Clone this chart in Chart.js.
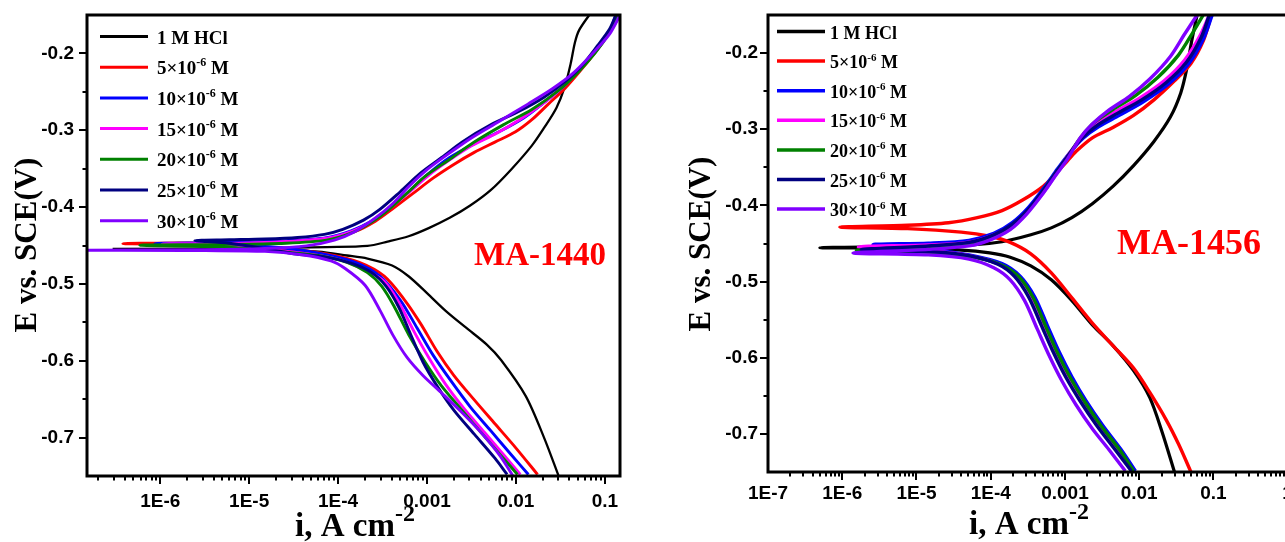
<!DOCTYPE html>
<html><head><meta charset="utf-8">
<script src="https://cdn.jsdelivr.net/npm/chart.js@4.4.1/dist/chart.umd.min.js"></script>
<style>
html,body{margin:0;padding:0;background:#fff;overflow:hidden;width:1285px;height:542px;position:relative;}
#wrapL{position:absolute;left:0;top:0;width:640px;height:542px;}
#wrapR{position:absolute;left:640px;top:0;width:680px;height:542px;}
canvas{display:block;}
</style></head><body>
<div id="wrapL"><canvas id="cL" width="640" height="542"></canvas></div>
<div id="wrapR"><canvas id="cR" width="680" height="542"></canvas></div>
<script>
// ---------- series names / tick labels ----------
const seriesNames = ['1 M HCl','5×10⁻⁶ M','10×10⁻⁶ M','15×10⁻⁶ M','20×10⁻⁶ M','25×10⁻⁶ M','30×10⁻⁶ M'];
const decadeLabels = {'-7':'1E-7','-6':'1E-6','-5':'1E-5','-4':'1E-4','-3':'0.001','-2':'0.01','-1':'0.1','0':'1'};
const yTickValues = [-0.7,-0.6,-0.5,-0.4,-0.3,-0.2];
const panelTags = ['MA-1440','MA-1456'];

// ---------- MA-1440 panel : [i (A cm^-2), E (V)] ----------
const hcl_1440 = [[0.030,-0.749],[0.0207,-0.700],[0.0129,-0.646],[6.8e-3,-0.599],[4.7e-3,-0.579],[2.75e-3,-0.557],[1.62e-3,-0.535],[1.0e-3,-0.512],[6.2e-4,-0.490],[4.05e-4,-0.476],[2.14e-4,-0.467],[1.26e-4,-0.463],[6.0e-5,-0.458],[1.5e-5,-0.4555],[3.0e-7,-0.4545],
 [1.5e-5,-0.4535],[7.4e-5,-0.452],[2.14e-4,-0.4505],[3.6e-4,-0.445],[6.2e-4,-0.438],[1.06e-3,-0.427],[1.8e-3,-0.414],[3.06e-3,-0.398],[5.2e-3,-0.378],[8.85e-3,-0.351],[0.0151,-0.320],[0.0207,-0.297],[0.0285,-0.271],[0.0353,-0.244],[0.0414,-0.2125],[0.046,-0.186],[0.0512,-0.170],[0.0667,-0.150]];
const c5_1440 = [[0.0175,-0.748],[9.9e-3,-0.713],[5.8e-3,-0.682],[3.4e-3,-0.651],[2.0e-3,-0.619],[1.3e-3,-0.588],[8.5e-4,-0.552],[5.6e-4,-0.521],[3.3e-4,-0.490],[1.73e-4,-0.472],[7.4e-5,-0.461],[2.6e-5,-0.454],[5.2e-6,-0.4496],[3.8e-7,-0.4475],
 [5.2e-6,-0.4462],[2.6e-5,-0.445],[7.4e-5,-0.4415],[1.56e-4,-0.4317],[2.65e-4,-0.418],[4.07e-4,-0.4026],[6.9e-4,-0.3825],[1.17e-3,-0.3623],[2.0e-3,-0.3445],[3.4e-3,-0.3288],[5.8e-3,-0.3154],[9.9e-3,-0.302],[0.0151,-0.2863],[0.0231,-0.266],[0.0353,-0.246],[0.054,-0.2215],[0.0826,-0.1946],[0.1135,-0.1723],[0.148,-0.150]];
const c10_1440 = [[0.0138,-0.748],[8.85e-3,-0.7224],[5.2e-3,-0.691],[3.06e-3,-0.66],[1.8e-3,-0.624],[1.17e-3,-0.5927],[7.7e-4,-0.557],[5.0e-4,-0.521],[2.95e-4,-0.49],[1.56e-4,-0.472],[6.7e-5,-0.461],[2.3e-5,-0.453],[5.2e-6,-0.4487],[8.7e-7,-0.4475],
 [5.2e-6,-0.446],[2.6e-5,-0.4437],[7.4e-5,-0.4397],[1.4e-4,-0.4308],[2.39e-4,-0.418],[3.65e-4,-0.4026],[6.2e-4,-0.380],[1.0e-3,-0.358],[1.8e-3,-0.3355],[3.4e-3,-0.3176],[6.45e-3,-0.302],[0.0122,-0.284],[0.0207,-0.264],[0.0335,-0.2438],[0.054,-0.2192],[0.0826,-0.1924],[0.1135,-0.170],[0.133,-0.150]];
const c15_1440 = [[0.0112,-0.748],[7.55e-3,-0.7246],[4.44e-3,-0.6933],[2.6e-3,-0.662],[1.62e-3,-0.6307],[1.06e-3,-0.5971],[7.1e-4,-0.5614],[4.9e-4,-0.5256],[3.3e-4,-0.4965],[1.93e-4,-0.481],[1.02e-4,-0.4683],[4.4e-5,-0.4607],[1.5e-5,-0.455],[5.2e-6,-0.4504],[1.05e-6,-0.448],
 [5.2e-6,-0.4474],[2.6e-5,-0.4446],[7.4e-5,-0.4406],[1.48e-4,-0.4308],[2.51e-4,-0.4174],[3.85e-4,-0.4013],[6.55e-4,-0.379],[1.06e-3,-0.358],[1.8e-3,-0.3386],[3.2e-3,-0.3199],[6.0e-3,-0.3042],[0.0118,-0.284],[0.0207,-0.264],[0.0335,-0.2438],[0.054,-0.2192],[0.0826,-0.1924],[0.116,-0.170],[0.141,-0.150]];
const c20_1440 = [[0.0104,-0.748],[7.2e-3,-0.7268],[4.2e-3,-0.6955],[2.47e-3,-0.6642],[1.46e-3,-0.633],[9.5e-4,-0.6016],[6.2e-4,-0.5658],[4.3e-4,-0.530],[3.1e-4,-0.5032],[2.14e-4,-0.4853],[1.26e-4,-0.472],[6.0e-5,-0.463],[2.07e-5,-0.4576],[5.2e-6,-0.452],[5.9e-7,-0.4496],
 [5.2e-6,-0.4487],[2.6e-5,-0.447],[7.4e-5,-0.443],[1.4e-4,-0.434],[2.39e-4,-0.4196],[3.65e-4,-0.404],[6.2e-4,-0.380],[9.5e-4,-0.36],[1.8e-3,-0.3377],[3.4e-3,-0.3154],[7.2e-3,-0.293],[0.0151,-0.273],[0.0285,-0.2505],[0.0485,-0.226],[0.0783,-0.199],[0.1135,-0.172],[0.141,-0.150]];
const c25_1440 = [[7.96e-3,-0.748],[5.8e-3,-0.7268],[3.4e-3,-0.6955],[2.0e-3,-0.6642],[1.3e-3,-0.633],[9.0e-4,-0.6016],[6.55e-4,-0.5658],[4.8e-4,-0.530],[3.47e-4,-0.5032],[2.39e-4,-0.4853],[1.4e-4,-0.473],[7.4e-5,-0.4652],[3.16e-5,-0.4607],[1.5e-5,-0.454],[6.0e-6,-0.447],[2.45e-6,-0.4435],
 [6.0e-6,-0.4425],[1.5e-5,-0.4415],[3.5e-5,-0.4395],[7.0e-5,-0.4355],[1.13e-4,-0.429],[1.93e-4,-0.417],[2.95e-4,-0.403],[5.0e-4,-0.380],[8.5e-4,-0.3556],[1.46e-3,-0.3355],[2.47e-3,-0.3154],[5.2e-3,-0.293],[0.011,-0.275],[0.0207,-0.257],[0.0353,-0.237],[0.054,-0.217],[0.0826,-0.190],[0.1135,-0.168],[0.133,-0.150]];
const c30_1440 = [[9.2e-3,-0.7495],[6.6e-3,-0.7235],[4.15e-3,-0.6948],[2.47e-3,-0.6674],[1.48e-3,-0.6426],[9.0e-4,-0.6192],[5.96e-4,-0.5957],[4.15e-4,-0.567],[2.96e-4,-0.5344],[2.01e-4,-0.5018],[1.2e-4,-0.48],[8.3e-5,-0.47],[3.9e-5,-0.462],[1.5e-5,-0.4576],[3.2e-6,-0.4567],[1.0e-7,-0.4562],
 [3.2e-6,-0.4555],[1.5e-5,-0.454],[4.4e-5,-0.4505],[9.1e-5,-0.443],[1.56e-4,-0.4317],[2.65e-4,-0.4138],[4.07e-4,-0.396],[6.2e-4,-0.3735],[9.5e-4,-0.3534],[1.62e-3,-0.3333],[3.06e-3,-0.311],[6.45e-3,-0.2886],[0.0136,-0.266],[0.0257,-0.246],[0.0437,-0.226],[0.0741,-0.199],[0.1135,-0.1745],[0.148,-0.150]];

// ---------- MA-1456 panel : [i (A cm^-2), E (V)] ----------
const hcl_1456 = [[0.0299,-0.75],[0.0204,-0.6977],[0.0139,-0.6523],[8.4e-3,-0.6168],[4.43e-3,-0.584],[2.34e-3,-0.5568],[1.24e-3,-0.525],[6.55e-4,-0.4977],[3.47e-4,-0.4795],[1.83e-4,-0.468],[9.7e-5,-0.4623],[4.0e-5,-0.4586],[7.6e-6,-0.4565],[5.0e-7,-0.4555],
 [7.6e-6,-0.454],[5.1e-5,-0.4523],[1.42e-4,-0.4477],[3.47e-4,-0.4386],[6.55e-4,-0.4295],[1.24e-3,-0.416],[2.34e-3,-0.3977],[4.43e-3,-0.375],[8.4e-3,-0.3477],[0.0158,-0.316],[0.0263,-0.284],[0.0363,-0.2523],[0.0438,-0.2205],[0.051,-0.184],[0.0603,-0.150]];
const c5_1456 = [[0.0498,-0.75],[0.034,-0.7136],[0.0232,-0.6818],[0.0139,-0.6455],[8.4e-3,-0.6136],[4.43e-3,-0.5841],[2.34e-3,-0.5545],[1.24e-3,-0.5214],[6.55e-4,-0.4886],[3.47e-4,-0.4636],[1.83e-4,-0.4486],[9.7e-5,-0.4405],[4.0e-5,-0.435],[7.6e-6,-0.4305],[9.3e-7,-0.4285],
 [7.6e-6,-0.426],[2.7e-5,-0.4227],[6.6e-5,-0.416],[1.42e-4,-0.4068],[2.69e-4,-0.393],[5.1e-4,-0.375],[7.4e-4,-0.359],[1.09e-3,-0.341],[1.4e-3,-0.3295],[2.34e-3,-0.3114],[4.43e-3,-0.2977],[8.4e-3,-0.2818],[0.0158,-0.2614],[0.0299,-0.2364],[0.0498,-0.2136],[0.073,-0.184],[0.094,-0.150]];
const c10_1456 = [[8.9e-3,-0.7486],[5.7e-3,-0.7205],[3.22e-3,-0.6886],[1.93e-3,-0.6568],[1.24e-3,-0.625],[8.45e-4,-0.5932],[5.75e-4,-0.5568],[3.94e-4,-0.5205],[2.51e-4,-0.4932],[1.42e-4,-0.4764],[5.1e-5,-0.465],[1.44e-5,-0.4577],[2.6e-6,-0.4515],
 [1.44e-5,-0.4496],[5.1e-5,-0.4459],[1.1e-4,-0.4368],[1.95e-4,-0.4227],[3.25e-4,-0.4023],[5.4e-4,-0.375],[7.9e-4,-0.3523],[1.16e-3,-0.3309],[1.77e-3,-0.3114],[2.83e-3,-0.2968],[5.4e-3,-0.2818],[0.0115,-0.2636],[0.0247,-0.2409],[0.0468,-0.2136],[0.073,-0.1818],[0.0964,-0.150]];
const c15_1456 = [[8.1e-3,-0.7486],[5.0e-3,-0.7205],[2.85e-3,-0.6886],[1.72e-3,-0.6568],[1.1e-3,-0.625],[7.5e-4,-0.5932],[5.1e-4,-0.5568],[3.5e-4,-0.5205],[2.2e-4,-0.4932],[1.3e-4,-0.4773],[5.1e-5,-0.4659],[1.44e-5,-0.4595],[1.65e-6,-0.4545],
 [1.44e-5,-0.4518],[5.1e-5,-0.4482],[1.1e-4,-0.4386],[2.09e-4,-0.4241],[3.47e-4,-0.4032],[5.75e-4,-0.3764],[8.25e-4,-0.3532],[1.16e-3,-0.3309],[1.7e-3,-0.3105],[2.6e-3,-0.2932],[4.7e-3,-0.2773],[0.0101,-0.2591],[0.0217,-0.2364],[0.041,-0.2091],[0.0658,-0.1773],[0.088,-0.150]];
const c20_1456 = [[8.4e-3,-0.7486],[5.4e-3,-0.7205],[3.02e-3,-0.6886],[1.82e-3,-0.6568],[1.16e-3,-0.625],[7.9e-4,-0.5932],[5.4e-4,-0.5568],[3.7e-4,-0.5205],[2.37e-4,-0.4932],[1.33e-4,-0.4773],[5.1e-5,-0.4668],[1.44e-5,-0.4614],[1.55e-6,-0.459],
 [1.44e-5,-0.455],[5.1e-5,-0.4505],[1.03e-4,-0.4405],[1.83e-4,-0.4273],[3.16e-4,-0.4068],[5.2e-4,-0.3795],[7.6e-4,-0.3568],[1.12e-3,-0.3341],[1.64e-3,-0.3105],[2.5e-3,-0.2909],[4.43e-3,-0.2741],[8.9e-3,-0.2559],[0.0179,-0.2318],[0.034,-0.2023],[0.053,-0.1727],[0.073,-0.150]];
const c25_1456 = [[7.85e-3,-0.7486],[4.72e-3,-0.7205],[2.66e-3,-0.6886],[1.6e-3,-0.6568],[1.02e-3,-0.625],[7.0e-4,-0.5932],[4.77e-4,-0.5568],[3.25e-4,-0.5205],[2.09e-4,-0.4932],[1.25e-4,-0.4773],[5.1e-5,-0.4659],[1.44e-5,-0.4605],[1.8e-6,-0.458],
 [1.44e-5,-0.4532],[5.1e-5,-0.4486],[1.1e-4,-0.4386],[1.95e-4,-0.425],[3.25e-4,-0.4045],[5.4e-4,-0.3773],[7.9e-4,-0.3545],[1.16e-3,-0.3318],[1.7e-3,-0.3114],[2.66e-3,-0.2955],[5.0e-3,-0.2795],[0.0108,-0.2614],[0.0232,-0.2386],[0.0438,-0.2114],[0.0684,-0.1795],[0.088,-0.150]];
const c30_1456 = [[6.5e-3,-0.7486],[3.9e-3,-0.7205],[2.34e-3,-0.6932],[1.4e-3,-0.6614],[9.0e-4,-0.6295],[6.17e-4,-0.5977],[4.2e-4,-0.5614],[2.86e-4,-0.525],[1.83e-4,-0.4977],[1.1e-4,-0.4818],[5.1e-5,-0.4705],[1.44e-5,-0.465],[1.4e-6,-0.4625],
 [1.44e-5,-0.4577],[5.1e-5,-0.4532],[9.7e-5,-0.4455],[1.83e-4,-0.4318],[3.05e-4,-0.4114],[5.1e-4,-0.384],[7.4e-4,-0.3614],[1.09e-3,-0.3386],[1.6e-3,-0.3114],[2.34e-3,-0.2932],[3.9e-3,-0.275],[7.4e-3,-0.2568],[0.0139,-0.2341],[0.0263,-0.2045],[0.041,-0.175],[0.0603,-0.150]];

// ---------- styles ----------
const seriesColors = ['#000000','#ff0000','#0000ff','#ff00ff','#008000','#000080','#8000ff'];
const SERIF = "'Liberation Serif','Times New Roman',serif";
const SANS = "'Liberation Sans',Arial,sans-serif";

function drawRich(ctx, parts, x, y, align) {
  let w = 0;
  parts.forEach(p => { ctx.font = p.font; p.w = ctx.measureText(p.t).width; w += p.w; });
  let cx = align === 'center' ? x - w / 2 : x;
  ctx.textAlign = 'left';
  parts.forEach(p => { ctx.font = p.font; ctx.fillText(p.t, cx, y + (p.dy || 0)); cx += p.w; });
}

const decoPlugin = {
  id: 'deco',
  afterDraw(chart, args, o) {
    const {ctx, chartArea: a} = chart;
    const x = chart.scales.x, y = chart.scales.y;
    ctx.save();
    ctx.strokeStyle = '#000';
    ctx.lineWidth = 2;
    ctx.beginPath();
    const e0 = Math.floor(Math.log10(x.min)), e1 = Math.ceil(Math.log10(x.max));
    for (let e = e0; e <= e1; e++) {
      for (let m = 1; m <= 9; m++) {
        const v = m * Math.pow(10, e);
        if (v <= x.min * 1.0001 || v >= x.max * 0.9999) continue;
        const px = Math.round(x.getPixelForValue(v));
        ctx.moveTo(px, a.bottom);
        ctx.lineTo(px, a.bottom + (m === 1 ? 8 : 4.5));
      }
    }
    for (let k = -20; k >= -70; k -= 5) {
      const py = Math.round(y.getPixelForValue(k / 100));
      ctx.moveTo(a.left, py);
      ctx.lineTo(a.left - (k % 10 === 0 ? 8 : 4.5), py);
    }
    ctx.stroke();
    ctx.lineWidth = 3;
    ctx.strokeRect(a.left, a.top, a.right - a.left, a.bottom - a.top);

    // legend
    const L = o.legend;
    ctx.textBaseline = 'alphabetic';
    chart.data.datasets.forEach((ds, k) => {
      const yc = L.y0 + k * L.dy;
      ctx.strokeStyle = ds.borderColor;
      ctx.lineWidth = L.lw;
      ctx.beginPath(); ctx.moveTo(L.x0, yc); ctx.lineTo(L.x1, yc); ctx.stroke();
      ctx.fillStyle = '#000';
      const f = 'bold ' + L.size + 'px ' + SERIF;
      const fs = 'bold ' + Math.round(L.size * 0.62) + 'px ' + SERIF;
      const lab = ds.label;
      if (lab.indexOf('⁻⁶') >= 0) {
        const [pre, post] = lab.split('⁻⁶');
        drawRich(ctx, [{t: pre, font: f}, {t: '-6', font: fs, dy: -L.size * 0.42}, {t: post, font: f}], L.tx, yc + L.base, 'left');
      } else {
        drawRich(ctx, [{t: lab, font: f}], L.tx, yc + L.base, 'left');
      }
    });

    // y title
    ctx.save();
    ctx.translate(o.ytitle.x, o.ytitle.y);
    ctx.rotate(-Math.PI / 2);
    ctx.font = 'bold ' + o.ytitle.size + 'px ' + SERIF;
    ctx.textAlign = 'center';
    ctx.textBaseline = 'middle';
    ctx.fillStyle = '#000';
    ctx.fillText('E vs. SCE(V)', 0, 0);
    ctx.restore();

    // x title
    ctx.fillStyle = '#000';
    ctx.textBaseline = 'alphabetic';
    drawRich(ctx, [
      {t: 'i, A cm', font: 'bold ' + o.xtitle.size + 'px ' + SERIF},
      {t: '-2', font: 'bold ' + o.xtitle.sup + 'px ' + SERIF, dy: -o.xtitle.size * 0.45}
    ], o.xtitle.x, o.xtitle.base, 'center');

    // panel tag
    ctx.fillStyle = '#ff0000';
    ctx.font = 'bold ' + o.tag.size + 'px ' + SERIF;
    ctx.textAlign = 'center';
    ctx.fillText(o.tag.text, o.tag.x, o.tag.base);
    ctx.restore();
  }
};

function zeroPad(s) { s.paddingTop = 0; s.paddingBottom = 0; s.paddingLeft = 0; s.paddingRight = 0; }

function makeChart(id, seriesList, cfg) {
  const datasets = seriesList.map((pts, k) => ({
    label: seriesNames[k],
    data: pts.map(p => ({x: p[0], y: p[1]})),
    borderColor: seriesColors[k],
    backgroundColor: seriesColors[k],
    borderWidth: k === 0 ? cfg.lw0 : cfg.lw,
    showLine: true,
    pointRadius: 0,
    pointHoverRadius: 0,
    tension: 0.3,
    fill: false,
    order: seriesList.length - k
  }));
  return new Chart(document.getElementById(id), {
    type: 'scatter',
    data: {datasets},
    plugins: [decoPlugin],
    options: {
      responsive: false,
      animation: false,
      devicePixelRatio: 1,
      layout: {padding: cfg.padding},
      plugins: {
        legend: {display: false},
        tooltip: {enabled: false},
        title: {display: false},
        deco: cfg.deco
      },
      events: [],
      scales: {
        x: {
          type: 'logarithmic', position: 'bottom', min: cfg.xmin, max: cfg.xmax,
          grid: {display: false, drawTicks: false}, border: {display: false},
          afterBuildTicks: s => {
            const t = [];
            for (let e = -8; e <= 1; e++) {
              const v = Math.pow(10, e);
              if (v >= cfg.xmin * 0.9999 && v <= cfg.xmax) t.push({value: v});
            }
            s.ticks = t;
          },
          ticks: {
            autoSkip: false, maxRotation: 0, minRotation: 0, padding: cfg.xpad, color: '#000',
            font: {family: SANS, weight: 'bold', size: 19},
            callback: v => decadeLabels[String(Math.round(Math.log10(v)))] || ''
          },
          afterFit: s => { s.height = cfg.xh; zeroPad(s); }
        },
        y: {
          type: 'linear', position: 'left', min: -0.75, max: -0.15,
          grid: {display: false, drawTicks: false}, border: {display: false},
          afterBuildTicks: s => { s.ticks = yTickValues.map(v => ({value: v})); },
          ticks: {
            padding: cfg.ypad, color: '#000',
            font: {family: SANS, weight: 'bold', size: 19},
            callback: v => Number(v).toFixed(1)
          },
          afterFit: s => { s.width = cfg.yw; zeroPad(s); }
        }
      }
    }
  });
}

makeChart('cL', [hcl_1440, c5_1440, c10_1440, c15_1440, c20_1440, c25_1440, c30_1440], {
  xmin: 1.5e-7, xmax: 0.148, lw0: 2.3, lw: 2.9,
  padding: {top: 15, right: 20, bottom: 0, left: 0},
  yw: 87, xh: 66, xpad: 14, ypad: 13,
  deco: {
    legend: {x0: 100, x1: 148, tx: 157, y0: 36.5, dy: 30.7, size: 19, base: 7, lw: 3},
    ytitle: {x: 28, y: 245, size: 31},
    xtitle: {x: 355, base: 536, size: 33, sup: 24},
    tag: {text: panelTags[0], x: 540, base: 265, size: 33}
  }
});

makeChart('cR', [hcl_1456, c5_1456, c10_1456, c15_1456, c20_1456, c25_1456, c30_1456], {
  xmin: 1e-7, xmax: 2, lw0: 3.2, lw: 3.4,
  padding: {top: 15, right: 10, bottom: 0, left: 0},
  yw: 128, xh: 70, xpad: 10, ypad: 10,
  deco: {
    legend: {x0: 137, x1: 185, tx: 190, y0: 31.5, dy: 29.6, size: 18, base: 7, lw: 3.5},
    ytitle: {x: 62, y: 244, size: 31},
    xtitle: {x: 389, base: 534, size: 33, sup: 24},
    tag: {text: panelTags[1], x: 549, base: 254, size: 36}
  }
});
</script>
</body></html>
